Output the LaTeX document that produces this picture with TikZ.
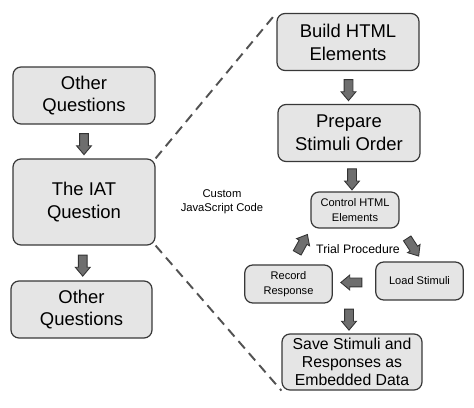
\documentclass[tikz,border=0pt]{standalone}
\usepackage{fontspec}
\setmainfont{Liberation Sans}
\usetikzlibrary{positioning,shapes.arrows,calc}

\begin{document}
\begin{tikzpicture}[x=0.02cm,y=-0.02cm,
    box/.style={draw=black!78,fill=black!10,line width=0.7pt,rounded corners=0.16cm,align=center,inner sep=0pt},
    big/.style={box,minimum width=2.84cm,minimum height=1.14cm,font=\fontsize{10.5}{13}\selectfont},
    small/.style={box,minimum width=1.75cm,minimum height=0.76cm,font=\fontsize{6.3}{8.4}\selectfont},
    fat/.style={single arrow,draw=black!80,fill=black!57,line width=0.5pt,minimum height=0.42cm,inner sep=0.08cm,single arrow head extend=0.06cm,single arrow tip angle=80},
    zoomline/.style={draw=black!68,line width=1.1pt,dash pattern=on 5.5pt off 3.5pt}]
  \useasboundingbox (0,0) rectangle (474,408);
  % left column
  \node[big] (q1) at (84,95.5) {Other\\Questions};
  \node[big,minimum height=1.72cm] (iat) at (84,202) {The IAT\\Question};
  \node[big,minimum width=2.82cm] (q2) at (81.5,309.5) {Other\\Questions};
  \node[align=center,font=\fontsize{6.4}{8}\selectfont] (js) at (222,202) {Custom\\JavaScript Code};
  % right column
  \node[big] (build) at (348,42) {Build HTML\\Elements};
  \node[big] (prep) at (349,133) {Prepare\\Stimuli Order};
  \node[small,minimum width=1.76cm,minimum height=0.72cm] (ctrl) at (355,210) {Control HTML\\Elements};
  \node[small] (rec) at (288.5,284) {Record\\Response};
  \node[small] (load) at (419.5,281) {Load Stimuli};
  \node[big,minimum width=2.8cm,minimum height=1.12cm,font=\fontsize{9}{10.2}\selectfont] (save) at (352,362) {Save Stimuli and\\Responses as\\Embedded Data};
  \node[font=\fontsize{7}{8}\selectfont] (trial) at (358,249) {Trial Procedure};
  % block arrows
  \node[fat,rotate=270] (a1) at ($(q1.south)!0.5!(iat.north)$) {};
  \node[fat,rotate=270] (a2) at ($(iat.south)!0.5!(q2.north)$) {};
  \node[fat,rotate=270] (a3) at ($(build.south)!0.5!(prep.north)$) {};
  \node[fat,rotate=270] (a4) at ($(prep.south)!0.5!(ctrl.north)$) {};
  \node[fat,rotate=61] (a5) at (301,246) {};
  \node[fat,rotate=-57] (a6) at (411.5,245) {};
  \node[fat,rotate=180] (a7) at ($(load.west)!0.5!(rec.east)$) {};
  \node[fat,rotate=270] (a8) at (349,317) {};
  % zoom lines
  \draw[zoomline] (iat.north east) -- (build.north west);
  \draw[zoomline] (iat.south east) -- (save.south west);
\end{tikzpicture}
\end{document}
